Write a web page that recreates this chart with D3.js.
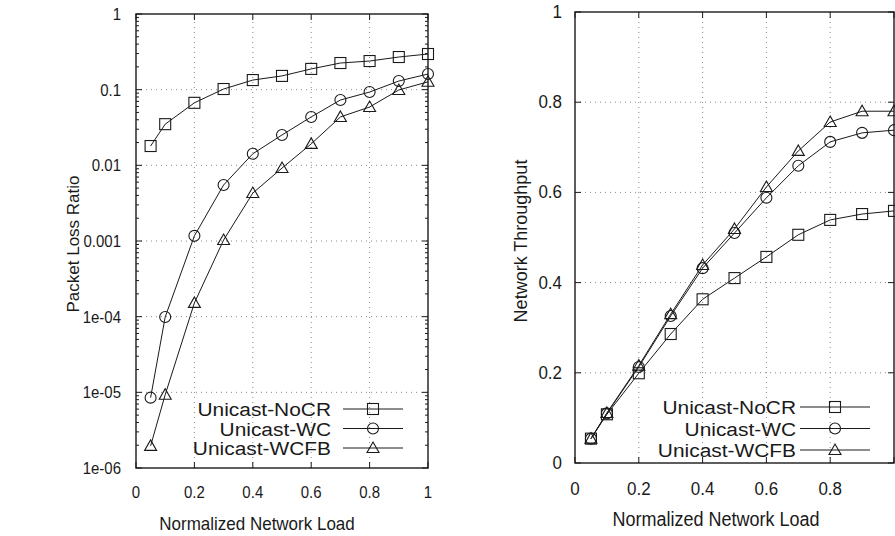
<!DOCTYPE html>
<html>
<head>
<meta charset="utf-8">
<script src="https://d3js.org/d3.v7.min.js"></script>
<style>
  body { margin: 0; background: #fff; overflow: hidden; }
  svg { display: block; font-family: "Liberation Sans", Arial, sans-serif; }
</style>
</head>
<body>
<svg width="895" height="536"></svg>
<script>
// data
const load = [0.05, 0.1, 0.2, 0.3, 0.4, 0.5, 0.6, 0.7, 0.8, 0.9, 1.0];
const seriesNames = ["Unicast-NoCR", "Unicast-WC", "Unicast-WCFB"];
const markers = ["square", "circle", "triangle"];

const lossNoCR = [0.018, 0.035, 0.067, 0.102, 0.134, 0.152, 0.188, 0.225, 0.239, 0.27, 0.296];
const lossWC = [8.5e-6, 9.9e-5, 0.00117, 0.0055, 0.0142, 0.0252, 0.0436, 0.073, 0.093, 0.13, 0.161];
const lossWCFB = [1.96e-6, 9.3e-6, 1.52e-4, 0.00103, 0.0043, 0.0092, 0.0192, 0.0436, 0.059, 0.099, 0.127];

const thrNoCR = [0.054, 0.108, 0.199, 0.286, 0.363, 0.41, 0.457, 0.506, 0.539, 0.552, 0.559];
const thrWC = [0.054, 0.11, 0.213, 0.326, 0.432, 0.51, 0.588, 0.659, 0.712, 0.732, 0.738];
const thrWCFB = [0.054, 0.111, 0.216, 0.33, 0.439, 0.519, 0.612, 0.692, 0.756, 0.78, 0.78];

const xTicks = [0, 0.2, 0.4, 0.6, 0.8, 1];
const xTicksRight = [0, 0.2, 0.4, 0.6, 0.8];
const lossTicks = [1, 0.1, 0.01, 0.001, 1e-4, 1e-5, 1e-6];
const lossTickLabels = ["1", "0.1", "0.01", "0.001", "1e-04", "1e-05", "1e-06"];
const thrTicks = [0, 0.2, 0.4, 0.6, 0.8, 1];

const svg = d3.select("svg");
const ink = "#1a1a1a";

// the scanned figure is a bit stretched vertically, so text gets a scale
function txt(g, x, y, str, size, anchor, sx = 1, sy = 1.1) {
  return g.append("text")
    .attr("transform", `translate(${x},${y}) scale(${sx},${sy})`)
    .attr("text-anchor", anchor).attr("font-size", size).attr("fill", ink).text(str);
}

function drawMarker(g, type, x, y) {
  if (type === "square") {
    g.append("rect").attr("x", x - 5.5).attr("y", y - 5.5).attr("width", 11).attr("height", 11)
      .attr("fill", "none").attr("stroke", ink).attr("stroke-width", 1.1);
  } else if (type === "circle") {
    g.append("circle").attr("cx", x).attr("cy", y).attr("r", 5.5)
      .attr("fill", "none").attr("stroke", ink).attr("stroke-width", 1.1);
  } else {
    g.append("path").attr("d", `M${x},${y - 6}L${x + 6},${y + 4.5}L${x - 6},${y + 4.5}Z`)
      .attr("fill", "none").attr("stroke", ink).attr("stroke-width", 1.1);
  }
}

function panel(opts) {
  const { x, y, series, xt, yt, ytLabels, yTitle, legend, minor, fs } = opts;
  const g = svg.append("g");
  const [x0, x1] = x.range();
  const [y0, y1] = y.range();

  // dotted grid
  xt.filter(d => d > 0 && d < 1).forEach(d => {
    g.append("line").attr("x1", x(d)).attr("x2", x(d)).attr("y1", y0).attr("y2", y1)
      .attr("stroke", "#8a8a8a").attr("stroke-dasharray", "1,4");
  });
  yt.forEach(d => {
    const yy = y(d);
    if (Math.abs(yy - y0) < 1 || Math.abs(yy - y1) < 1) return;
    g.append("line").attr("x1", x0).attr("x2", x1).attr("y1", yy).attr("y2", yy)
      .attr("stroke", "#8a8a8a").attr("stroke-dasharray", "1,4");
  });

  // ticks on all four sides
  xt.forEach(d => {
    g.append("line").attr("x1", x(d)).attr("x2", x(d)).attr("y1", y0).attr("y2", y0 - 6).attr("stroke", ink);
    g.append("line").attr("x1", x(d)).attr("x2", x(d)).attr("y1", y1).attr("y2", y1 + 6).attr("stroke", ink);
  });
  yt.forEach(d => {
    g.append("line").attr("x1", x0).attr("x2", x0 + 6).attr("y1", y(d)).attr("y2", y(d)).attr("stroke", ink);
    g.append("line").attr("x1", x1).attr("x2", x1 - 6).attr("y1", y(d)).attr("y2", y(d)).attr("stroke", ink);
  });
  (minor || []).forEach(d => {
    g.append("line").attr("x1", x0).attr("x2", x0 + 3).attr("y1", y(d)).attr("y2", y(d)).attr("stroke", ink);
    g.append("line").attr("x1", x1).attr("x2", x1 - 3).attr("y1", y(d)).attr("y2", y(d)).attr("stroke", ink);
  });

  // frame
  g.append("rect").attr("x", x0).attr("y", y1).attr("width", x1 - x0).attr("height", y0 - y1)
    .attr("fill", "none").attr("stroke", ink).attr("stroke-width", 1.4);

  // tick labels
  opts.xtLabelsAt.forEach(d => txt(g, x(d), opts.xtY, d3.format("~g")(d), fs.tick, "middle", 1, fs.sy));
  yt.forEach((d, i) => txt(g, x0 - opts.ytGap, y(d) + 6, ytLabels ? ytLabels[i] : d3.format("~g")(d),
    fs.tick, "end", 1, fs.sy));

  // titles
  txt(g, opts.xTitleX, opts.xTitleY, "Normalized Network Load", fs.title, "middle");
  g.append("text").attr("transform", `translate(${opts.yTitleX},${opts.yTitleY}) rotate(-90)`)
    .attr("text-anchor", "middle").attr("font-size", fs.title).attr("fill", ink).text(yTitle);

  // series
  const line = d3.line().x((d, i) => x(load[i])).y(d => y(d));
  series.forEach((vals, s) => {
    g.append("path").attr("d", line(vals)).attr("fill", "none").attr("stroke", ink).attr("stroke-width", 1);
    vals.forEach((v, i) => drawMarker(g, markers[s], x(load[i]), y(v)));
  });

  // legend
  seriesNames.forEach((name, s) => {
    const ly = legend.y + s * legend.dy;
    txt(g, legend.textX, ly + 7, name, fs.legend, "end", 1.1, 1);
    g.append("line").attr("x1", legend.lineX0).attr("x2", legend.lineX1).attr("y1", ly).attr("y2", ly)
      .attr("stroke", ink).attr("stroke-width", 1);
    drawMarker(g, markers[s], (legend.lineX0 + legend.lineX1) / 2, ly);
  });
}

// left: packet loss ratio (log scale)
const minorLoss = [];
[1e-6, 1e-5, 1e-4, 1e-3, 1e-2, 1e-1].forEach(b => {
  for (let k = 2; k <= 9; k++) minorLoss.push(b * k);
});
panel({
  x: d3.scaleLinear().domain([0, 1]).range([136, 428]),
  y: d3.scaleLog().domain([1e-6, 1]).range([468, 14]),
  series: [lossNoCR, lossWC, lossWCFB],
  xt: xTicks, xtLabelsAt: xTicks, xtY: 498,
  yt: lossTicks, ytLabels: lossTickLabels, minor: minorLoss, ytGap: 15,
  fs: { tick: 15, title: 17, legend: 19, sy: 1.15 },
  yTitle: "Packet Loss Ratio", yTitleX: 79, yTitleY: 244,
  xTitleX: 257, xTitleY: 530,
  legend: { y: 409, dy: 19.5, textX: 331, lineX0: 343, lineX1: 403 }
});

// right: network throughput
panel({
  x: d3.scaleLinear().domain([0, 1]).range([575, 894]),
  y: d3.scaleLinear().domain([0, 1]).range([463, 12]),
  series: [thrNoCR, thrWC, thrWCFB],
  xt: xTicks, xtLabelsAt: xTicksRight, xtY: 495,
  yt: thrTicks, ytGap: 13,
  fs: { tick: 17, title: 18, legend: 19, sy: 1.12 },
  yTitle: "Network Throughput", yTitleX: 527, yTitleY: 241,
  xTitleX: 716, xTitleY: 526,
  legend: { y: 407, dy: 21.5, textX: 796, lineX0: 800, lineX1: 870 }
});
</script>
</body>
</html>
